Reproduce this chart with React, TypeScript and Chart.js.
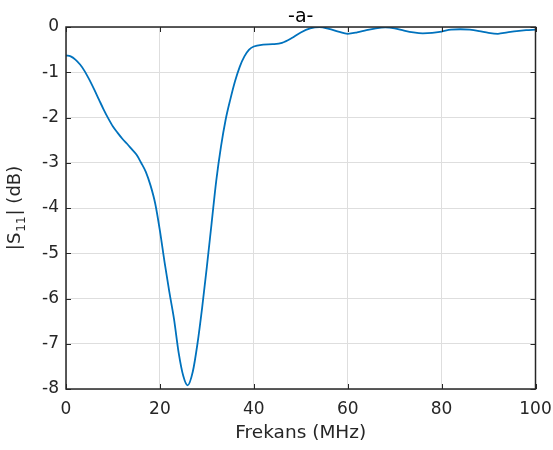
import React, { useEffect, useRef } from "react";
import { Chart, registerables } from "chart.js";

Chart.register(...registerables);

const freqMHz = [0, 1, 2, 3, 4, 5, 6, 7, 8, 9, 10, 11, 12, 13, 14, 15, 16, 17, 18, 19, 20, 21, 22, 23, 24, 25, 25.9, 27, 28, 29, 30, 31, 32, 33, 34, 35, 36, 37, 38, 39, 40, 42, 44, 46, 48, 50, 52, 54, 56, 58, 60, 62, 64, 66, 68, 70, 72, 74, 76, 78, 80, 82, 84, 86, 88, 90, 92, 94, 96, 98, 100];
const s11dB = [-0.63, -0.65, -0.72, -0.83, -0.98, -1.17, -1.38, -1.6, -1.82, -2.02, -2.2, -2.34, -2.47, -2.58, -2.7, -2.82, -3.0, -3.2, -3.5, -3.9, -4.5, -5.2, -5.85, -6.45, -7.2, -7.72, -7.92, -7.62, -7.0, -6.2, -5.3, -4.35, -3.4, -2.65, -2.05, -1.6, -1.2, -0.88, -0.65, -0.5, -0.43, -0.39, -0.38, -0.35, -0.25, -0.12, -0.03, 0.0, -0.04, -0.1, -0.15, -0.12, -0.07, -0.03, -0.01, -0.03, -0.08, -0.12, -0.14, -0.13, -0.1, -0.06, -0.05, -0.06, -0.09, -0.13, -0.15, -0.12, -0.09, -0.07, -0.06];
const xTicks = [0, 20, 40, 60, 80, 100];
const yTicks = [-8, -7, -6, -5, -4, -3, -2, -1, 0];
const titleText = "-a-";
const xLabel = "Frekans (MHz)";
const yLabelMain = "|S";
const yLabelSub = "11";
const yLabelRest = "| (dB)";

const FONT = "'DejaVu Sans', sans-serif";
const AX = "#262626";

const boxPlugin = {
  id: "matlabBox",
  afterDraw(chart: any) {
    const { ctx, chartArea: a, scales } = chart;
    const xs = scales.x, ys = scales.y;
    ctx.save();
    ctx.strokeStyle = AX;
    ctx.lineWidth = 1;
    const tl = 5;
    xTicks.forEach((t) => {
      const px = Math.round(xs.getPixelForValue(t)) + 0.5;
      ctx.beginPath();
      ctx.moveTo(px, a.bottom); ctx.lineTo(px, a.bottom - tl);
      ctx.moveTo(px, a.top); ctx.lineTo(px, a.top + tl);
      ctx.stroke();
    });
    yTicks.forEach((t) => {
      const py = Math.round(ys.getPixelForValue(t)) + 0.5;
      ctx.beginPath();
      ctx.moveTo(a.left, py); ctx.lineTo(a.left + tl, py);
      ctx.moveTo(a.right, py); ctx.lineTo(a.right - tl, py);
      ctx.stroke();
    });
    ctx.lineWidth = 1.5;
    ctx.strokeRect(a.left, a.top, a.right - a.left, a.bottom - a.top);
    // title
    ctx.fillStyle = "#000";
    ctx.font = `19px ${FONT}`;
    ctx.textAlign = "center";
    ctx.textBaseline = "alphabetic";
    ctx.fillText(titleText, (a.left + a.right) / 2, 22);
    // x label
    ctx.fillStyle = AX;
    ctx.font = `18.5px ${FONT}`;
    ctx.fillText(xLabel, (a.left + a.right) / 2, 438);
    // y label with subscript
    ctx.translate(20, (a.top + a.bottom) / 2);
    ctx.rotate(-Math.PI / 2);
    ctx.textAlign = "left";
    const mainFont = `18px ${FONT}`;
    const subFont = `12px ${FONT}`;
    ctx.font = mainFont;
    const w1 = ctx.measureText(yLabelMain).width;
    const w3 = ctx.measureText(yLabelRest).width;
    ctx.font = subFont;
    const w2 = ctx.measureText(yLabelSub).width + 2;
    const total = w1 + w2 + w3;
    let x0 = -total / 2;
    ctx.font = mainFont;
    ctx.fillText(yLabelMain, x0, 0);
    x0 += w1 + 1;
    ctx.font = subFont;
    ctx.fillText(yLabelSub, x0, 5);
    x0 += w2 - 1;
    ctx.font = mainFont;
    ctx.fillText(yLabelRest, x0, 0);
    ctx.restore();
  },
};

export default function App() {
  const ref = useRef<HTMLCanvasElement | null>(null);
  useEffect(() => {
    if (!ref.current) return;
    const points = freqMHz.map((f, i) => ({ x: f, y: s11dB[i] }));
    const chart = new Chart(ref.current, {
      type: "line",
      data: {
        datasets: [
          {
            data: points,
            borderColor: "#0072BD",
            borderWidth: 1.8,
            pointRadius: 0,
            fill: false,
            cubicInterpolationMode: "monotone",
          },
        ],
      },
      options: {
        responsive: false,
        animation: false,
        events: [],
        layout: { padding: { left: 0, top: 27, right: 17.5, bottom: 0 } },
        plugins: { legend: { display: false }, tooltip: { enabled: false }, title: { display: false } },
        scales: {
          x: {
            type: "linear",
            min: 0,
            max: 100,
            afterBuildTicks: (s: any) => { s.ticks = xTicks.map((v) => ({ value: v })); },
            afterFit: (s: any) => { s.height = 61; s.paddingLeft = 0; s.paddingRight = 0; },
            grid: { color: "rgb(222,222,222)", lineWidth: 1, drawTicks: false },
            border: { display: false },
            ticks: { color: AX, font: { family: FONT, size: 17 }, padding: 10, maxRotation: 0 },
          },
          y: {
            type: "linear",
            min: -8,
            max: 0,
            afterBuildTicks: (s: any) => { s.ticks = yTicks.map((v) => ({ value: v })); },
            afterFit: (s: any) => { s.width = 66; s.paddingTop = 0; s.paddingBottom = 0; },
            grid: { color: "rgb(222,222,222)", lineWidth: 1, drawTicks: false },
            border: { display: false },
            ticks: { color: AX, font: { family: FONT, size: 17 }, padding: 7 },
          },
        },
      },
      plugins: [boxPlugin],
    });
    return () => chart.destroy();
  }, []);
  return (
    <div style={{ position: "fixed", left: 0, top: 0, width: 553, height: 450, background: "#fff" }}>
      <canvas ref={ref} width={553} height={450} style={{ display: "block" }} />
    </div>
  );
}
